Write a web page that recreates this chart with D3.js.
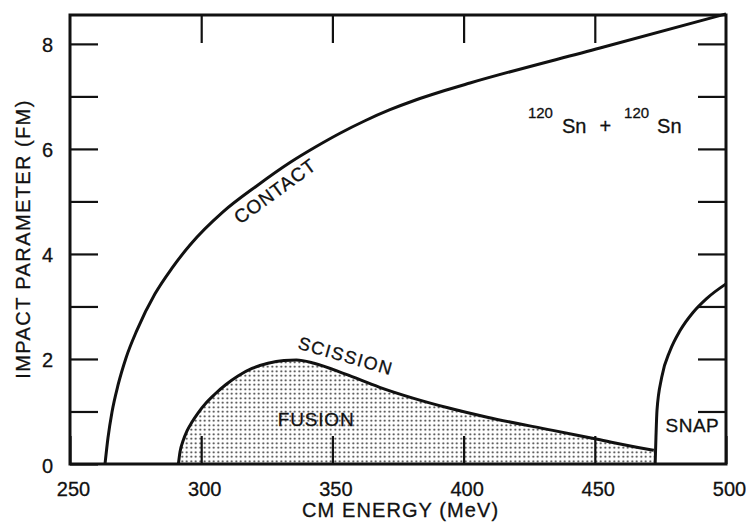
<!DOCTYPE html>
<html>
<head>
<meta charset="utf-8">
<script src="https://cdn.jsdelivr.net/npm/d3@7"></script>
<style>
  body { margin: 0; background: #fff; }
  svg text { font-family: "Liberation Sans", Arial, Helvetica, sans-serif; fill: #111; stroke: #111; stroke-width: 0.3px; }
</style>
</head>
<body>
<div id="app"></div>
<script>
// Boundary curves: [CM energy (MeV), impact parameter (fm)]
const contact = [
  [263.34, 0], [264.48, 0.5], [266.01, 0.99], [268.29, 1.5], [271.34, 2.02],
  [275.53, 2.55], [282.39, 3.24], [288.87, 3.73], [295.73, 4.17], [308.31, 4.8],
  [321.27, 5.3], [333.84, 5.741], [343.37, 6.031], [352.9, 6.298], [362.42, 6.536],
  [371.95, 6.746], [381.48, 6.927], [391.01, 7.084], [402.44, 7.255],
  [451.98, 7.922], [500, 8.571]
];
const scission = [
  [291.31, 0], [291.92, 0.229], [293.06, 0.438], [294.59, 0.629], [296.49, 0.8],
  [298.78, 0.971], [301.83, 1.162], [305.26, 1.333], [309.45, 1.514], [314.02, 1.676],
  [319.36, 1.819], [325.46, 1.918], [331.55, 1.97], [336.28, 1.98], [343, 1.92],
  [355, 1.71], [368, 1.46], [381, 1.25], [394, 1.07], [409, 0.89],
  [434, 0.64], [451, 0.47], [467, 0.31], [472.5, 0.26]
];
const snap = [
  [473, 0], [473.3, 0.5], [473.7, 1.02], [475.5, 1.65], [478.7, 2.16],
  [482.5, 2.54], [487.5, 2.89], [492.6, 3.15], [500, 3.43]
];

const xTicks = [250, 300, 350, 400, 450, 500];
const yTicks = [0, 1, 2, 3, 4, 5, 6, 7, 8];
const yLabels = [0, 2, 4, 6, 8];

const width = 746;
const height = 524;
const plotLeft = 70, plotRight = 726, plotTop = 15, plotBottom = 464;

const x = d3.scaleLinear().domain([250, 500]).range([plotLeft, plotRight]);
const y = d3.scaleLinear().domain([0, 8.55]).range([plotBottom, plotTop]);

const svg = d3.select("#app").append("svg")
  .attr("width", width)
  .attr("height", height);

// halftone dots for the fusion region
const defs = svg.append("defs");
const pat = defs.append("pattern")
  .attr("id", "dots")
  .attr("patternUnits", "userSpaceOnUse")
  .attr("width", 4.5)
  .attr("height", 4.5);
pat.append("circle").attr("cx", 2.25).attr("cy", 2.25).attr("r", 1).attr("fill", "#222");

const line = d3.line()
  .x(d => x(d[0]))
  .y(d => y(d[1]))
  .curve(d3.curveMonotoneX);

const area = d3.area()
  .x(d => x(d[0]))
  .y0(y(0))
  .y1(d => y(d[1]))
  .curve(d3.curveMonotoneX);

// fusion region
svg.append("path")
  .datum(scission)
  .attr("d", area)
  .attr("fill", "url(#dots)");

// axes: ticks point inward on all four sides
const tickLen = 28;
const axes = [
  svg.append("g").attr("transform", `translate(0,${plotBottom})`)
    .call(d3.axisBottom(x).tickValues(xTicks).tickSizeInner(-tickLen).tickSizeOuter(0).tickPadding(18)),
  svg.append("g").attr("transform", `translate(0,${plotTop})`)
    .call(d3.axisTop(x).tickValues(xTicks.slice(1, -1)).tickSizeInner(-tickLen).tickSizeOuter(0).tickFormat("")),
  svg.append("g").attr("transform", `translate(${plotLeft},0)`)
    .call(d3.axisLeft(y).tickValues(yTicks).tickSizeInner(-tickLen).tickSizeOuter(0).tickPadding(17)
      .tickFormat(d => (yLabels.includes(d) ? d : ""))),
  svg.append("g").attr("transform", `translate(${plotRight},0)`)
    .call(d3.axisRight(y).tickValues(yTicks.slice(1)).tickSizeInner(-tickLen).tickSizeOuter(0).tickFormat(""))
];
axes.forEach(g => {
  g.select(".domain").remove();
  g.selectAll(".tick line").attr("stroke", "#111").attr("stroke-width", 2.2);
  g.selectAll(".tick text")
    .style("font-size", "20px")
    .attr("fill", "#111")
    .style("font-family", "'Liberation Sans', Arial, sans-serif");
});
axes[0].selectAll(".tick text").attr("dx", 3);
axes[2].selectAll(".tick text").attr("dy", "0.4em");

// frame
svg.append("rect")
  .attr("x", plotLeft).attr("y", plotTop)
  .attr("width", plotRight - plotLeft).attr("height", plotBottom - plotTop)
  .attr("fill", "none").attr("stroke", "#111").attr("stroke-width", 3);

// curves
[contact, scission, snap].forEach(c => {
  svg.append("path")
    .datum(c)
    .attr("d", line)
    .attr("fill", "none")
    .attr("stroke", "#111")
    .attr("stroke-width", 3);
});

// curve labels
function label(txt, e, b, angle, size, spacing) {
  svg.append("text")
    .attr("transform", `translate(${x(e)},${y(b)}) rotate(${angle})`)
    .attr("text-anchor", "middle")
    .attr("dy", "0.36em")
    .style("font-size", size + "px")
    .style("letter-spacing", spacing + "px")
    .text(txt);
}
label("CONTACT", 328.1, 5.2, -36, 19, 0.8);
label("SCISSION", 355.1, 2.06, 16, 18, 1.5);
label("FUSION", 343.8, 0.86, 0, 19, 0.8);
label("SNAP", 487.2, 0.74, 0, 19, 0.5);

// reaction label
const rx = svg.append("text")
  .attr("x", x(424.5))
  .attr("y", y(6.3))
  .style("font-size", "20px");
rx.append("tspan").attr("dy", -15).style("font-size", "15px").text("120");
rx.append("tspan").attr("dx", 9).attr("dy", 15).text("Sn");
rx.append("tspan").attr("dx", 13).text("+");
rx.append("tspan").attr("dx", 13).attr("dy", -15).style("font-size", "15px").text("120");
rx.append("tspan").attr("dx", 8).attr("dy", 15).text("Sn");

// axis titles
svg.append("text")
  .attr("x", 302)
  .attr("y", 517)
  .style("font-size", "20px")
  .style("letter-spacing", "1.1px")
  .text("CM ENERGY (MeV)");

svg.append("text")
  .attr("transform", `translate(30,239) rotate(-90)`)
  .attr("text-anchor", "middle")
  .style("font-size", "20px")
  .style("letter-spacing", "1.4px")
  .text("IMPACT PARAMETER (FM)");
</script>
</body>
</html>
